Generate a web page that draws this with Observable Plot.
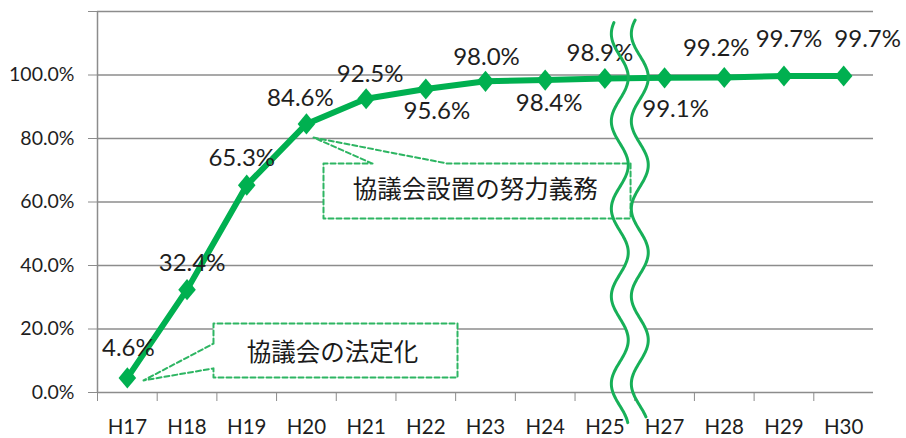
<!DOCTYPE html>
<html>
<head>
<meta charset="utf-8">
<script src="https://cdn.jsdelivr.net/npm/d3@7"></script>
<script src="https://cdn.jsdelivr.net/npm/@observablehq/plot@0.6"></script>
<style>
  html, body { margin: 0; padding: 0; background: #fff; }
</style>
</head>
<body>
<div id="chart"></div>
<script>
// ---- data ----
const categories = ["H17","H18","H19","H20","H21","H22","H23","H24","H25","H27","H28","H29","H30"];
const values = [4.6, 32.4, 65.3, 84.6, 92.5, 95.6, 98.0, 98.4, 98.9, 99.1, 99.2, 99.7, 99.7];
const yTicks = [0, 20, 40, 60, 80, 100, 120];
const callout1Text = "協議会の法定化";
const callout2Text = "協議会設置の努力義務";

// ---- layout / styling ----
const rows = categories.map((c, i) => ({i, c, v: values[i], label: values[i].toFixed(1) + "%"}));
const labelOffsets = [[1,-30],[5,-26],[-5,-27],[-6,-26],[4,-25],[11,22],[1,-24],[4,23],[-5,-25],[11,31],[-8,-29],[5,-37],[24,-37]];

const GREEN = "#00b050";
const WAVE = "#17b058";
const DASH = "#2db562";
const GRAY = "#8c8c8c";
const TXT = "#1e1e1e";
const LATIN = "Lato, 'Noto Sans', sans-serif";
const CJK = "'Noto Sans CJK JP', sans-serif";

// axis break waves (decoration), in data units
const waveLeft = v => 8.25 + 0.142 * Math.cos(2 * Math.PI * (v - 99.2) / 27.56);
const waveShift = 0.335;
const waveL = d3.range(116.5, -9.9, -0.5).map(v => ({x: waveLeft(v), y: v}));
const waveR = d3.range(117.3, -8.1, -0.5).map(v => ({x: waveLeft(v) + waveShift, y: v}));
const waveBand = d3.range(116.5, -8.1, -0.5).map(v => ({y: v, x1: waveLeft(v), x2: waveLeft(v) + waveShift}));

// callout boxes (annotation), in data units
const box1 = {x1: 1.443, x2: 5.531, y1: 4.7, y2: 21.7};
const tip1 = {x: 0.271, y: 3.8};
const box1Path = [
  {x: box1.x1, y: 15.4}, {x: box1.x1, y: box1.y2}, {x: box1.x2, y: box1.y2},
  {x: box1.x2, y: box1.y1}, {x: box1.x1, y: box1.y1}, {x: box1.x1, y: 7.6},
  tip1, {x: box1.x1, y: 15.4}
];
const box2 = {x1: 3.286, x2: 8.43, y1: 54.8, y2: 72.1};
const tip2 = {x: 3.119, y: 80.3};
const box2Path = [
  {x: 4.107, y: box2.y2}, tip2, {x: 5.363, y: box2.y2}, {x: box2.x2, y: box2.y2},
  {x: box2.x2, y: box2.y1}, {x: box2.x1, y: box2.y1}, {x: box2.x1, y: box2.y2}, {x: 4.107, y: box2.y2}
];

const diamond = {
  draw(ctx, size) {
    const s = Math.sqrt(size / Math.PI);
    const w = s * 1.1, h = s * 1.32;
    ctx.moveTo(0, -h); ctx.lineTo(w, 0); ctx.lineTo(0, h); ctx.lineTo(-w, 0); ctx.closePath();
  }
};

const chart = Plot.plot({
  width: 906,
  height: 438,
  marginLeft: 97,
  marginRight: 33,
  marginTop: 11,
  marginBottom: 46,
  x: {domain: [-0.5, 12.5]},
  y: {domain: [0, 120]},
  style: {fontFamily: LATIN, background: "#fff", overflow: "visible"},
  marks: [
    Plot.ruleY(yTicks.filter(d => d > 0), {stroke: GRAY, strokeWidth: 1.3}),
    Plot.areaX(waveBand, {y: "y", x1: "x1", x2: "x2", fill: "#fff"}),
    Plot.ruleX([-0.5], {stroke: GRAY, strokeWidth: 1.5}),
    Plot.ruleY([0], {stroke: GRAY, strokeWidth: 1.5}),
    Plot.axisY({ticks: yTicks, tickSize: 9, tickPadding: 14, fontSize: 19.5,
      tickFormat: d => d === 120 ? "" : d.toFixed(1) + "%", stroke: GRAY, fill: TXT, label: null}),
    Plot.axisX({ticks: d3.range(13).map(k => k - 0.5), tickSize: 9, tickFormat: () => "", stroke: GRAY, label: null}),
    Plot.axisX({ticks: d3.range(13), tickSize: 0, tickPadding: 27, fontSize: 20.5,
      tickFormat: k => categories[k], fill: TXT, label: null}),
    Plot.rect([box1, box2], {x1: "x1", x2: "x2", y1: "y1", y2: "y2", fill: "#fff"}),
    Plot.line(rows, {x: "i", y: "v", stroke: GREEN, strokeWidth: 6}),
    Plot.dot(rows, {x: "i", y: "v", symbol: diamond, r: 8, fill: GREEN, stroke: "none"}),
    ...rows.map((d, k) => Plot.text([d], {x: "i", y: "v", text: "label", dx: labelOffsets[k][0], dy: labelOffsets[k][1],
      fontSize: 24, fill: TXT, fontFamily: LATIN})),
    Plot.line(box1Path, {x: "x", y: "y", stroke: DASH, strokeWidth: 2, strokeDasharray: "5,3"}),
    Plot.line(box2Path, {x: "x", y: "y", stroke: DASH, strokeWidth: 2, strokeDasharray: "5,3"}),
    Plot.text([{x: (box1.x1 + box1.x2) / 2 - 0.05, y: 12.3, t: callout1Text}], {x: "x", y: "y", text: "t",
      fontSize: 24.5, fontFamily: CJK, fill: "#1a1a1a"}),
    Plot.text([{x: 5.83, y: 63.6, t: callout2Text}], {x: "x", y: "y", text: "t",
      fontSize: 24.5, fontFamily: CJK, fill: "#1a1a1a"}),
    Plot.line(waveL, {x: "x", y: "y", stroke: WAVE, strokeWidth: 3, curve: "basis"}),
    Plot.line(waveR, {x: "x", y: "y", stroke: WAVE, strokeWidth: 3, curve: "basis"})
  ]
});
document.getElementById("chart").appendChild(chart);
</script>
</body>
</html>
